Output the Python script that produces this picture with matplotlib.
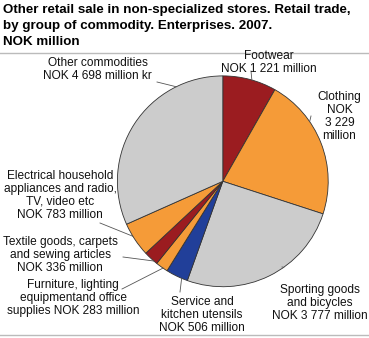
import numpy as np
import matplotlib
matplotlib.use("Agg")
import matplotlib.pyplot as plt
from matplotlib.lines import Line2D
from matplotlib.font_manager import FontProperties

categories = ["Footwear", "Clothing", "Sporting goods and bicycles",
              "Service and kitchen utensils",
              "Furniture, lighting equipmentand office supplies",
              "Textile goods, carpets and sewing articles",
              "Electrical household appliances and radio, TV, video etc",
              "Other commodities"]
values = [1221, 3229, 3777, 506, 283, 336, 783, 4698]
labels = ["Footwear\nNOK 1 221 million",
          "Clothing\nNOK\n3 229\nmillion",
          "Sporting goods\nand bicycles\nNOK 3 777 million",
          "Service and\nkitchen utensils\nNOK 506 million",
          "Furniture, lighting\nequipmentand office\nsupplies NOK 283 million",
          "Textile goods, carpets\nand sewing articles\nNOK 336 million",
          "Electrical household\nappliances and radio,\nTV, video etc\nNOK 783 million",
          "Other commodities\nNOK 4 698 million kr"]
colors = ["#9b1c20", "#f59b38", "#cccccc", "#213f99",
          "#f59b38", "#9b1c20", "#f59b38", "#cccccc"]

W, H = 369, 338
fig = plt.figure(figsize=(W / 100, H / 100), dpi=100)
plt.rcParams['font.family'] = ['Liberation Sans', 'DejaVu Sans']
renderer = fig.canvas.get_renderer()

def metrics(fs, weight="normal"):
    fp = FontProperties(family=['Liberation Sans', 'DejaVu Sans'], size=fs, weight=weight)
    w, h, d = renderer.get_text_width_height_descent("lp", fp, ismath=False)
    return h - d, d

cx, cy, R = 222.8, 181.3, 105.4
ax = fig.add_axes([(cx - R) / W, (H - cy - R) / H, 2 * R / W, 2 * R / H])
wedges, _ = ax.pie(values, colors=colors, startangle=90, counterclock=False,
                   wedgeprops=dict(edgecolor="#333333", linewidth=0.6))
ax.set_xlim(-1, 1)
ax.set_ylim(-1, 1)
ax.set_aspect("equal")
ax.axis("off")

# label placement: (centre x, first baseline y) in pixels
label_px = [(269, 59), (339.5, 100), (320, 293), (202, 305),
            (73, 288), (60, 245), (60, 179), (97.5, 66)]
frac = [0.46, 0.67, 0.6, 0.73, 0.62, 0.75, 0.39, 0.23]
line_start_px = [(251, 71), (311, 116), (282, 267), (180, 292),
                 (122, 289), (123, 257), (100, 223), (157, 82)]

def px2fig(p):
    return (p[0] / W, 1 - p[1] / H)

LFS = 8.6
lasc, ldesc = metrics(LFS)
for w, lab, lp, f, ls in zip(wedges, labels, label_px, frac, line_start_px):
    t1, t2 = w.theta1, w.theta2
    ang = np.deg2rad(t1 + f * (t2 - t1))
    ex, ey = np.cos(ang), np.sin(ang)
    ep = ax.transData.transform((ex, ey))
    efig = fig.transFigure.inverted().transform(ep)
    sfig = px2fig(ls)
    fig.add_artist(Line2D([sfig[0], efig[0]], [sfig[1], efig[1]],
                          color="#555555", linewidth=0.6, transform=fig.transFigure))
    fx, fy = px2fig((lp[0], lp[1] - lasc))
    fig.text(fx, fy, lab, ha="center", va="top", fontsize=LFS,
             color="#111111", linespacing=(12.9 - ldesc) / lasc)

TFS = 9.6
tasc, tdesc = metrics(TFS, "bold")
fig.text(3 / W, 1 - (13 - tasc) / H,
         "Other retail sale in non-specialized stores. Retail trade,\n"
         "by group of commodity. Enterprises. 2007.\nNOK million",
         ha="left", va="top", fontsize=TFS, fontweight="bold",
         linespacing=(16.0 - tdesc) / tasc)

for yy in (53, 335):
    fig.add_artist(Line2D([0, 1], [1 - yy / H] * 2, color="#bbbbbb",
                          linewidth=1, transform=fig.transFigure))

fig.savefig("out.png", dpi=100)
